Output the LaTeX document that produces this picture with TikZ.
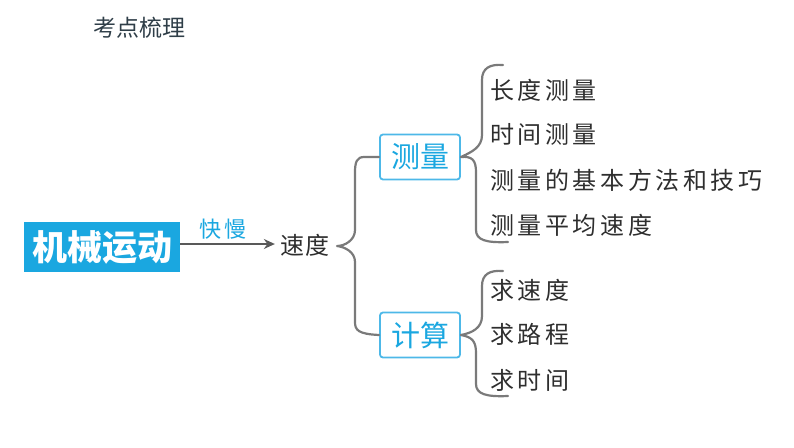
\documentclass[tikz,border=0pt]{standalone}
\usepackage{fontspec}
\newfontfamily\cjk{Noto Sans CJK SC}
\usetikzlibrary{arrows.meta,calc}
\definecolor{skyb}{HTML}{1AA7E0}
\definecolor{boxb}{HTML}{4DB8E8}
\definecolor{brgray}{HTML}{7A7A7A}
\definecolor{inkc}{HTML}{2E2E2E}
\definecolor{titlec}{HTML}{2F3E48}
\tikzset{
  item/.style={anchor=west,inner sep=0pt,text=inkc,font=\cjk\fontsize{24}{26}\selectfont\addfontfeature{LetterSpace=15}},
  catbox/.style={draw=boxb,line width=1.8pt,rounded corners=3pt,text=skyb,minimum width=80pt,minimum height=45pt,inner sep=0pt,font=\cjk\fontsize{29}{31}\selectfont},
  brace/.style={draw=brgray,line width=2.2pt,line cap=round,line join=round}
}
\begin{document}
\begin{tikzpicture}[x=1pt,y=-1pt]
\useasboundingbox (0,0) rectangle (794,447);
\node[text=titlec,font=\cjk\fontsize{23}{25}\selectfont] (title) at (139,28) {考点梳理};
\node[fill=skyb,text=white,minimum width=156pt,minimum height=50pt,inner sep=0pt,font=\cjk\bfseries\fontsize{35}{37}\selectfont] (main) at (102,247) {机械运动};
\node[font=\cjk\fontsize{24}{26}\selectfont\addfontfeature{LetterSpace=8},text=inkc,inner sep=0pt] (speed) at (305,245) {速度};
\draw[draw=black!65,line width=1.4pt,-{Stealth[length=11pt,width=10pt]}] (main.east |- 0,244) -- ([xshift=-5pt]speed.west |- 0,244) coordinate[pos=0.45] (mid);
\node[text=skyb,font=\cjk\fontsize{22}{24}\selectfont\addfontfeature{LetterSpace=12},anchor=south,inner sep=0pt] (fast) at ($(mid)+(0,-4)$) {快慢};
\node[catbox] (meas) at (420,157) {测量};
\node[catbox] (calc) at (420,335) {计算};
% big brace
\coordinate (bc) at (337,246);
\draw[brace] (meas.west) -- (364,157) .. controls (357,157) and (355,162) .. (355,172) -- (355,230) .. controls (355,240) and (345,246) .. (bc) .. controls (345,247) and (355,252) .. (355,262) -- (355,322) .. controls (355,330) and (358,334) .. (calc.west);
% items for measurement
\node[item] (i1) at (490,90) {长度测量};
\node[item] (i2) at (490,134) {时间测量};
\node[item] (i3) at (490,180) {测量的基本方法和技巧};
\node[item] (i4) at (490,225) {测量平均速度};
\draw[brace] (503,65) .. controls (490,64) and (482,68) .. (482,80) -- (482,135) .. controls (482,147) and (472,152) .. (meas.east) .. controls (472,156) and (476,160) .. (476,172) -- (476,230) .. controls (476,240) and (486,243) .. (508,242);
% items for calculation
\node[item] (j1) at (490,290) {求速度};
\node[item] (j2) at (490,334) {求路程};
\node[item] (j3) at (490,380) {求时间};
\draw[brace] (503,271) .. controls (490,270) and (482,274) .. (482,286) -- (482,316) .. controls (482,328) and (472,333) .. (calc.east) .. controls (472,337) and (476,341) .. (476,353) -- (476,384) .. controls (476,394) and (486,397) .. (508,396);
\end{tikzpicture}
\end{document}
